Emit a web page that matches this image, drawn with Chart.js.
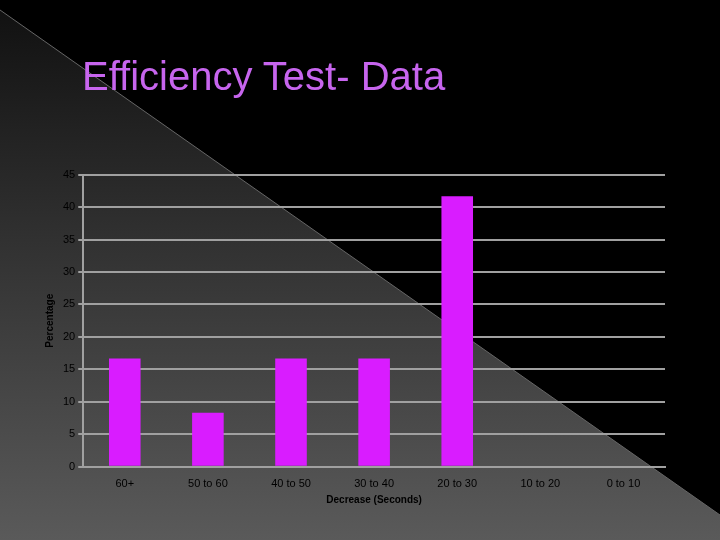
<!DOCTYPE html>
<html>
<head>
<meta charset="utf-8">
<script src="https://cdn.jsdelivr.net/npm/chart.js@4/dist/chart.umd.min.js"></script>
<style>
  body { margin: 0; background: #000; }
  .wrap { position: relative; width: 720px; height: 540px; }
  .heading {
    position: absolute; left: 82px; top: 54px;
    font-family: "Liberation Sans", Arial, sans-serif;
    font-size: 40px; color: #c765ee;
  }
</style>
</head>
<body>
<div class="wrap">
  <canvas id="myChart" width="720" height="540"></canvas>
  <div class="heading">Efficiency Test- Data</div>
</div>
<script>
const categories = ['60+', '50 to 60', '40 to 50', '30 to 40', '20 to 30', '10 to 20', '0 to 10']
const percentages = [16.67, 8.33, 16.67, 16.67, 41.67, 0, 0]
const yTicks = [0, 5, 10, 15, 20, 25, 30, 35, 40, 45]

// slide background: dark gradient triangle bottom-left, black upper-right
const slideBg = {
    id: 'slideBg',
    beforeDraw(chart) {
        const c = chart.ctx
        const g = c.createLinearGradient(0, 0, 0, 540)
        g.addColorStop(0, '#101010')
        g.addColorStop(1, '#5a5a5a')
        c.save()
        c.fillStyle = '#000'
        c.fillRect(0, 0, 720, 540)
        c.beginPath()
        c.moveTo(0, 0)
        c.lineTo(0, 540)
        c.lineTo(720, 540)
        c.lineTo(720, 515)
        c.lineTo(0, 10)
        c.closePath()
        c.fillStyle = g
        c.fill()
        c.strokeStyle = '#666'
        c.lineWidth = 1
        c.beginPath()
        c.moveTo(0, 10)
        c.lineTo(720, 515)
        c.stroke()
        c.restore()
    }
}

const ctx = document.querySelector('#myChart').getContext('2d')
new Chart(ctx, {
    type: 'bar',
    data: {
        labels: categories,
        datasets: [{
            data: percentages,
            backgroundColor: '#d91cff',
            categoryPercentage: 1,
            barPercentage: 0.38
        }]
    },
    options: {
        responsive: false,
        animation: false,
        layout: { padding: { left: 40, right: 55, top: 145, bottom: 34 } },
        plugins: {
            legend: { display: false },
            tooltip: { enabled: false },
            title: {
                display: true, text: 'Data', color: '#000',
                font: { family: 'Liberation Sans', size: 13, weight: 'bold' },
                padding: { top: 0, bottom: 14 }
            }
        },
        scales: {
            y: {
                min: 0, max: 45,
                afterBuildTicks: axis => { axis.ticks = yTicks.map(v => ({ value: v })) },
                ticks: { color: '#000', font: { family: 'Liberation Sans', size: 11 } },
                grid: { color: '#a0a0a0', lineWidth: 2, tickLength: 5 },
                border: { color: '#a0a0a0', width: 2 },
                title: {
                    display: true, text: 'Percentage', color: '#000',
                    font: { family: 'Liberation Sans', size: 10, weight: 'bold' }
                }
            },
            x: {
                ticks: { color: '#000', font: { family: 'Liberation Sans', size: 11 } },
                grid: { display: false },
                border: { color: '#a0a0a0', width: 2 },
                title: {
                    display: true, text: 'Decrease (Seconds)', color: '#000',
                    font: { family: 'Liberation Sans', size: 10, weight: 'bold' },
                    padding: 0
                }
            }
        }
    },
    plugins: [slideBg]
})
</script>
</body>
</html>
